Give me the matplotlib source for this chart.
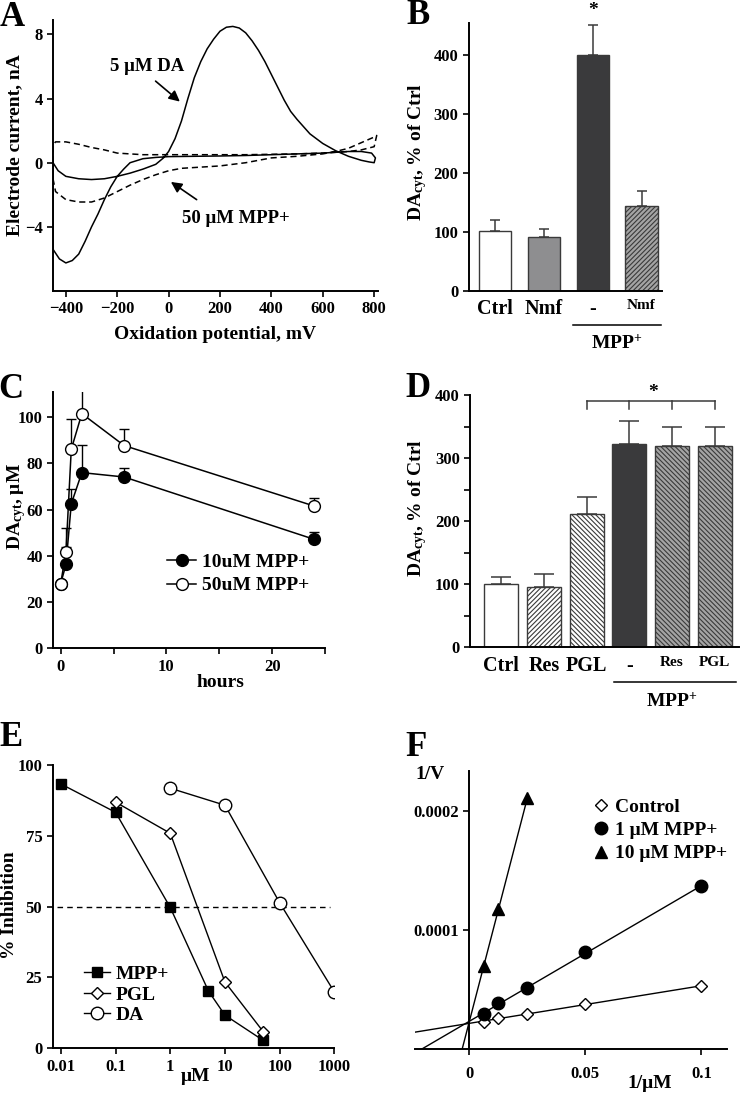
import numpy as np
import matplotlib
matplotlib.use('Agg')
import matplotlib.pyplot as plt
import matplotlib.transforms as mtransforms

plt.rcParams['font.family'] = 'Liberation Serif'
plt.rcParams['font.weight'] = 'bold'
plt.rcParams['axes.labelweight'] = 'bold'
plt.rcParams['mathtext.fontset'] = 'custom'
plt.rcParams['mathtext.rm'] = 'Liberation Serif:bold'
plt.rcParams['mathtext.bf'] = 'Liberation Serif:bold'
plt.rcParams['mathtext.it'] = 'Liberation Serif:bold:italic'
plt.rcParams['hatch.linewidth'] = 0.8
plt.rcParams['axes.linewidth'] = 1.4
plt.rcParams['xtick.major.width'] = 1.2
plt.rcParams['ytick.major.width'] = 1.2
plt.rcParams['xtick.labelsize'] = 12
plt.rcParams['ytick.labelsize'] = 12

# --- A: cyclic voltammograms ---
da_mv = [-450, -430, -400, -350, -300, -250, -200, -150, -100, -50, -20, 0, 25, 50, 75, 100,
         125, 150, 175, 200, 225, 250, 275, 300, 325, 350, 375, 400, 425, 450, 475, 500, 550,
         600, 650, 700, 750, 780, 800,
         805, 790, 750, 700, 650, 600, 500, 400, 300, 200, 100, 0, -50, -100, -150, -175, -200,
         -225, -250, -275, -300, -325, -350, -375, -400, -425, -450, -450]
da_na = [0.0, -0.5, -0.85, -1.0, -1.05, -1.0, -0.85, -0.65, -0.4, -0.1, 0.3, 0.7, 1.5, 2.6, 4.0, 5.3,
         6.3, 7.1, 7.7, 8.2, 8.45, 8.5, 8.4, 8.1, 7.6, 7.0, 6.3, 5.5, 4.7, 3.9, 3.2, 2.7, 1.8,
         1.2, 0.75, 0.4, 0.15, 0.05, 0.0,
         0.3, 0.6, 0.7, 0.7, 0.65, 0.6, 0.55, 0.5, 0.45, 0.42, 0.4, 0.38, 0.33, 0.25, 0.0, -0.4, -0.85,
         -1.5, -2.3, -3.2, -4.0, -4.9, -5.7, -6.1, -6.25, -6.0, -5.4, 0.0]
mpp_mv = [-450, -440, -400, -350, -300, -250, -200, -150, -100, -50, 0, 50, 100, 200, 300, 400,
          500, 600, 650, 700, 750, 800, 810,
          800, 750, 700, 600, 500, 300, 100, -100, -200, -250, -300, -350, -400, -440, -450, -450]
mpp_na = [-1.0, -1.8, -2.3, -2.45, -2.45, -2.2, -1.8, -1.4, -1.05, -0.75, -0.5, -0.35, -0.3, -0.2, 0.0, 0.3,
          0.4, 0.55, 0.7, 0.9, 1.25, 1.6, 1.7,
          1.0, 0.8, 0.7, 0.6, 0.55, 0.5, 0.5, 0.5, 0.6, 0.8, 0.95, 1.15, 1.3, 1.3, 1.1, -1.0]

# --- B ---
b_labels = ['Ctrl', 'Nmf', '-', 'Nmf']
b_vals = [102, 92, 401, 144]
b_err = [19, 14, 50, 26]

# --- C ---
c_hours = [0, 0.5, 1, 2, 6, 24]
c_10 = [28, 36.3, 62.5, 76, 74.1, 47.1]
c_10_err = [0, 7.5, 6.3, 12.1, 3.7, 3.3]
c_50 = [28, 41.7, 86.1, 101.5, 87.7, 61.5]
c_50_err = [0, 10.4, 13, 10.1, 7, 3.5]

# --- D ---
d_labels = ['Ctrl', 'Res', 'PGL', '-', 'Res', 'PGL']
d_vals = [100, 96, 212, 323, 319, 319]
d_err = [11, 21, 27, 35, 30, 30]

# --- E ---
e_mpp_x = [0.01, 0.1, 1, 5, 10, 50]
e_mpp_y = [93.3, 83.3, 49.7, 20.2, 11.7, 2.8]
e_pgl_x = [0.1, 1, 10, 50]
e_pgl_y = [86.9, 75.9, 23.4, 5.9]
e_da_x = [1, 10, 100, 1000]
e_da_y = [91.8, 85.8, 51.4, 19.9]

# --- F: Lineweaver-Burk ---
f_x = [1 / 160, 1 / 80, 1 / 40, 1 / 20, 1 / 10]
f_ctrl = [2.31e-5, 2.65e-5, 2.96e-5, 3.77e-5, 5.33e-5]
f_1um = [2.96e-5, 3.86e-5, 5.16e-5, 8.18e-5, 1.369e-4]
f_10um_x = [1 / 160, 1 / 80, 1 / 40]
f_10um = [7.0e-5, 1.18e-4, 2.11e-4]

W, H = 745, 1095
fig = plt.figure(figsize=(W / 100, H / 100), dpi=100)


def box(l, t, r, b):
    # pixel box -> figure fraction
    return [l / W, 1 - b / H, (r - l) / W, (b - t) / H]


def clean(ax):
    ax.spines['top'].set_visible(False)
    ax.spines['right'].set_visible(False)
    ax.tick_params(direction='out', length=4)


def letter(x, y, s):
    # y is the baseline, in pixels from the top
    fig.text(x / W, 1 - y / H, s, fontsize=25, ha='center', va='baseline')


# ================= A =================
axA = fig.add_axes(box(53, 20, 378, 291))
clean(axA)
axA.plot(da_mv, da_na, color='k', lw=1.1)
axA.plot(mpp_mv, mpp_na, color='k', lw=1.1, ls=(0, (4, 2.5)))
axA.set_xlim(-450, 815)
axA.set_ylim(-8, 8.9)
axA.set_xticks(range(-400, 801, 200))
axA.set_yticks([-4, 0, 4, 8])
axA.text(-85, 6.0, '5 μM DA', fontsize=13.5, ha='center', va='center')
axA.annotate('', xy=(52, 3.7), xytext=(-59, 5.2),
             arrowprops=dict(arrowstyle='-|>', color='k', lw=1.2, mutation_scale=16))
axA.text(262, -3.5, '50 μM MPP+', fontsize=13.5, ha='center', va='center')
axA.annotate('', xy=(0, -1.1), xytext=(118, -2.4),
             arrowprops=dict(arrowstyle='-|>', color='k', lw=1.2, mutation_scale=16))
axA.set_xlabel('Oxidation potential, mV', fontsize=14, va='center')
axA.xaxis.set_label_coords(0.5, -0.162)
axA.set_ylabel('Electrode current, nA', fontsize=14, va='center')
axA.yaxis.set_label_coords(-0.117, 0.54)
letter(12, 26, 'A')

# ================= B =================
axB = fig.add_axes(box(469, 23, 662, 291))
clean(axB)
bx = np.arange(len(b_vals))
b_colors = ['white', '#8e8e90', '#3a3a3c', '#a4a4a4']
b_hatch = [None, None, None, '///////']
for i in range(len(b_vals)):
    axB.bar(bx[i], b_vals[i], width=0.66, color=b_colors[i], edgecolor='#3a3a3a',
            lw=1.0, hatch=b_hatch[i], zorder=2)
axB.errorbar(bx, b_vals, yerr=[np.zeros(len(b_err)), b_err], fmt='none', ecolor='#3a3a3a',
             elinewidth=1.1, capsize=3.6, capthick=1.1, zorder=1)
axB.set_xlim(-0.54, 3.42)
axB.set_ylim(0, 455)
axB.set_yticks([0, 100, 200, 300, 400])
axB.set_xticks(bx)
axB.set_xticklabels(b_labels)
for t, fs in zip(axB.get_xticklabels(), [14.5, 14.5, 14.5, 11]):
    t.set_fontsize(fs)
axB.tick_params(axis='x', length=0, pad=6)
axB.text(2, 476, '*', fontsize=14, ha='center', va='center', clip_on=False)
trB = mtransforms.blended_transform_factory(axB.transData, axB.transAxes)
axB.plot([1.59, 3.40], [-0.127, -0.127], color='k', lw=1.1, transform=trB, clip_on=False)
axB.text(2.5, -0.194, 'MPP$^{+}$', fontsize=14, ha='center', va='center', transform=trB)
axB.set_ylabel('DA$_{\\mathrm{cyt}}$, % of Ctrl', fontsize=14, va='center')
axB.yaxis.set_label_coords(-0.269, 0.517)
letter(418, 24, 'B')

# ================= C =================
axC = fig.add_axes(box(53.3, 391.7, 325, 648.3))
clean(axC)
axC.errorbar(c_hours, c_10, yerr=[np.zeros(6), c_10_err], fmt='none', ecolor='k',
             elinewidth=1.0, capsize=3.6, capthick=1.0, zorder=1)
axC.errorbar(c_hours, c_50, yerr=[np.zeros(6), c_50_err], fmt='none', ecolor='k',
             elinewidth=1.0, capsize=3.6, capthick=1.0, zorder=1)
axC.plot(c_hours, c_10, '-o', color='k', mfc='k', ms=8.5, lw=1.1, label='10uM MPP+', zorder=3)
axC.plot(c_hours, c_50, '-o', color='k', mfc='white', ms=8.5, lw=1.1, label='50uM MPP+', zorder=3)
axC.set_xlim(-0.7, 25)
axC.set_ylim(0, 111)
axC.set_xticks([0, 5, 10, 15, 20, 25])
axC.set_xticklabels(['0', '', '10', '', '20', ''])
axC.set_yticks(range(0, 101, 20))
axC.legend(loc='upper left', bbox_to_anchor=(0.39, 0.40), frameon=False, fontsize=14,
           handlelength=1.5, handletextpad=0.3, labelspacing=0.3, borderaxespad=0)
axC.set_xlabel('hours', fontsize=14, va='center')
axC.xaxis.set_label_coords(0.617, -0.135)
axC.set_ylabel('DA$_{\\mathrm{cyt}}$, μM', fontsize=14, va='center')
axC.yaxis.set_label_coords(-0.137, 0.552)
letter(11, 398, 'C')

# ================= D =================
axD = fig.add_axes(box(470.3, 395, 739, 647.3))
clean(axD)
dx = np.arange(len(d_vals))
d_colors = ['white', 'white', 'white', '#3a3a3c', '#a4a4a4', '#a4a4a4']
d_hatch = [None, '///////', '\\\\\\\\\\\\\\', None, '\\\\\\\\\\\\\\', '\\\\\\\\\\\\\\']
for i in range(len(d_vals)):
    axD.bar(dx[i], d_vals[i], width=0.8, color=d_colors[i], edgecolor='#3a3a3a',
            lw=1.0, hatch=d_hatch[i], zorder=2)
axD.errorbar(dx, d_vals, yerr=[np.zeros(len(d_err)), d_err], fmt='none', ecolor='#3a3a3a',
             elinewidth=1.1, capsize=7, capthick=1.1, zorder=1)
axD.set_xlim(-0.73, 5.57)
axD.set_ylim(0, 400)
axD.set_yticks([0, 100, 200, 300, 400])
axD.set_yticks([50, 150, 250, 350], minor=True)
axD.tick_params(axis='y', which='minor', length=4, width=1.2, direction='out')
axD.set_xticks(dx)
axD.set_xticklabels(d_labels)
for t, fs in zip(axD.get_xticklabels(), [14.5, 14.5, 14.5, 14.5, 11, 11]):
    t.set_fontsize(fs)
axD.tick_params(axis='x', length=0, pad=6)
for xb in [2, 3, 4, 5]:
    axD.plot([xb, xb], [378, 390], color='#3a3a3a', lw=1.1, clip_on=False)
axD.plot([2, 5], [390, 390], color='#3a3a3a', lw=1.1, clip_on=False)
axD.text(3.56, 404, '*', fontsize=14, ha='center', va='center', clip_on=False)
trD = mtransforms.blended_transform_factory(axD.transData, axD.transAxes)
axD.plot([2.65, 5.49], [-0.139, -0.139], color='k', lw=1.1, transform=trD, clip_on=False)
axD.text(4.0, -0.216, 'MPP$^{+}$', fontsize=14, ha='center', va='center', transform=trD)
axD.set_ylabel('DA$_{\\mathrm{cyt}}$, % of Ctrl', fontsize=14, va='center')
axD.yaxis.set_label_coords(-0.198, 0.55)
letter(418, 397, 'D')

# ================= E =================
axE = fig.add_axes(box(52.7, 765, 334.3, 1048.3))
clean(axE)
axE.set_xscale('log')
axE.plot([0.0085, 850], [50, 50], color='k', lw=1.0, ls=(0, (4, 3)))
axE.plot(e_mpp_x, e_mpp_y, '-s', color='k', mfc='k', ms=6.5, lw=1.0, label='MPP+')
axE.plot(e_pgl_x, e_pgl_y, '-D', color='k', mfc='white', ms=6.5, mew=1.0, lw=1.0, label='PGL')
axE.plot(e_da_x, e_da_y, '-o', color='k', mfc='white', ms=9, mew=1.0, lw=1.0, label='DA')
axE.set_xlim(10 ** -2.15, 1000)
axE.set_ylim(0, 100)
axE.set_xticks([0.01, 0.1, 1, 10, 100, 1000])
axE.set_xticklabels(['0.01', '0.1', '1', '10', '100', '1000'])
axE.minorticks_off()
axE.set_yticks([0, 25, 50, 75, 100])
axE.legend(loc='upper left', bbox_to_anchor=(0.085, 0.32), frameon=False, fontsize=14,
           handlelength=1.3, handletextpad=0.3, labelspacing=0.15, borderaxespad=0)
axE.set_xlabel('μM', fontsize=14, va='center')
axE.xaxis.set_label_coords(0.506, -0.101)
axE.set_ylabel('% Inhibition', fontsize=14, va='center')
axE.yaxis.set_label_coords(-0.152, 0.506)
letter(11, 746, 'E')

# ================= F =================
axF = fig.add_axes(box(415.3, 770.7, 727, 1049.3))
axF.spines['top'].set_visible(False)
axF.spines['right'].set_visible(False)
axF.spines['left'].set_position(('data', 0))
axF.tick_params(direction='out', length=4)
xmin_f = -0.0233
for xs, ys, mk, fc, ms, lab in [(f_x, f_ctrl, 'D', 'white', 6.5, 'Control'),
                                 (f_x, f_1um, 'o', 'k', 9, '1 μM MPP+'),
                                 (f_10um_x, f_10um, '^', 'k', 8.5, '10 μM MPP+')]:
    m, b = np.polyfit(xs, ys, 1)
    x0 = max(xmin_f, -b / m)
    axF.plot([x0, max(xs)], [m * x0 + b, m * max(xs) + b], color='k', lw=1.0)
    axF.plot(xs, ys, ls='none', marker=mk, mfc=fc, mec='k', mew=1.0, ms=ms, label=lab)
axF.set_xlim(xmin_f, 0.111)
axF.set_ylim(0, 0.000234)
axF.set_xticks([0, 0.05, 0.1])
axF.set_xticklabels(['0', '0.05', '0.1'])
axF.set_yticks([0.0001, 0.0002])
axF.set_yticklabels(['0.0001', '0.0002'])
axF.tick_params(axis='x', pad=8)
axF.legend(loc='upper left', bbox_to_anchor=(0.54, 0.93), frameon=False, fontsize=14,
           handlelength=1.0, handletextpad=0.2, labelspacing=0.3, borderaxespad=0)
axF.text(0.047, 0.985, '1/V', fontsize=14, ha='center', va='center', transform=axF.transAxes)
axF.text(0.753, -0.121, '1/μM', fontsize=14, ha='center', va='center', transform=axF.transAxes)
letter(416, 756, 'F')

fig.savefig('out.png', dpi=100)
